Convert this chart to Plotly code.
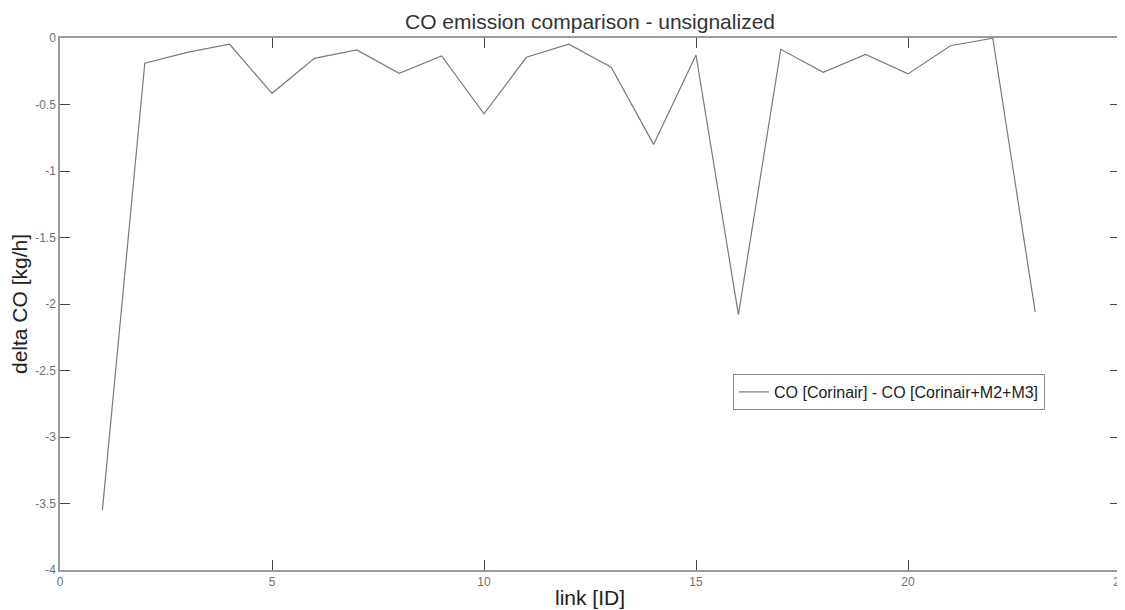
import plotly.graph_objects as go

link_id = list(range(1, 24))
delta_co = [-3.55, -0.19, -0.108, -0.047, -0.416, -0.153, -0.09, -0.266, -0.135, -0.57,
            -0.145, -0.047, -0.22, -0.80, -0.128, -2.08, -0.085, -0.258, -0.123, -0.27,
            -0.058, -0.002, -2.06]

x_ticks = [0, 5, 10, 15, 20, 25]
x_tick_labels = ["0", "5", "10", "15", "20", "25"]
y_ticks = [0, -0.5, -1, -1.5, -2, -2.5, -3, -3.5, -4]
y_tick_labels = ["0", "-0.5", "-1", "-1.5", "-2", "-2.5", "-3", "-3.5", "-4"]

FONT = "Liberation Sans, Arial, sans-serif"
W, H = 1125, 610
OFF = 8  # page body margin
PL, PR, PT, PB = 60, 1120, 38, 570  # plot area in page pixels

fig = go.Figure()
fig.add_trace(go.Scatter(
    x=link_id, y=delta_co, mode="lines",
    line=dict(color="#7a7a7a", width=1.2),
    name="CO [Corinair] - CO [Corinair+M2+M3]",
))

axis_common = dict(
    showline=True, linecolor="#9a9a9a", linewidth=1.5, mirror="ticks",
    ticks="inside", ticklen=10, tickcolor="#444444", tickwidth=1,
    showgrid=False, zeroline=False,
    tickfont=dict(family=FONT, size=12, color="#707070"),
)

fig.update_layout(
    width=W, height=H,
    margin=dict(l=PL - OFF, r=W + OFF - PR, t=PT - OFF, b=H + OFF - PB, autoexpand=False),
    paper_bgcolor="white", plot_bgcolor="white",
    font=dict(family=FONT),
    title=dict(text="CO emission comparison - unsignalized", x=(590 - OFF) / W, xanchor="center",
               y=1 - (22 - OFF) / H, yanchor="middle",
               font=dict(family=FONT, size=21, color="#333333")),
    xaxis=dict(range=[0, 25], tickvals=x_ticks, ticktext=x_tick_labels,
               title=dict(text="link [ID]", font=dict(family=FONT, size=21, color="#222222"),
                          standoff=2),
               **axis_common),
    yaxis=dict(range=[-4, 0], tickvals=y_ticks, ticktext=y_tick_labels,
               title=dict(text="delta CO [kg/h]", font=dict(family=FONT, size=21, color="#222222"),
                          standoff=6),
               **axis_common),
    showlegend=True,
    legend=dict(x=(733 - PL) / (PR - PL), y=(PB - 374) / (PB - PT), xanchor="left", yanchor="top",
                bgcolor="white", bordercolor="#8a8a8a", borderwidth=1,
                font=dict(family=FONT, size=16, color="#222222"),
                tracegroupgap=0, itemwidth=30),
)

fig.write_html("out.html")
